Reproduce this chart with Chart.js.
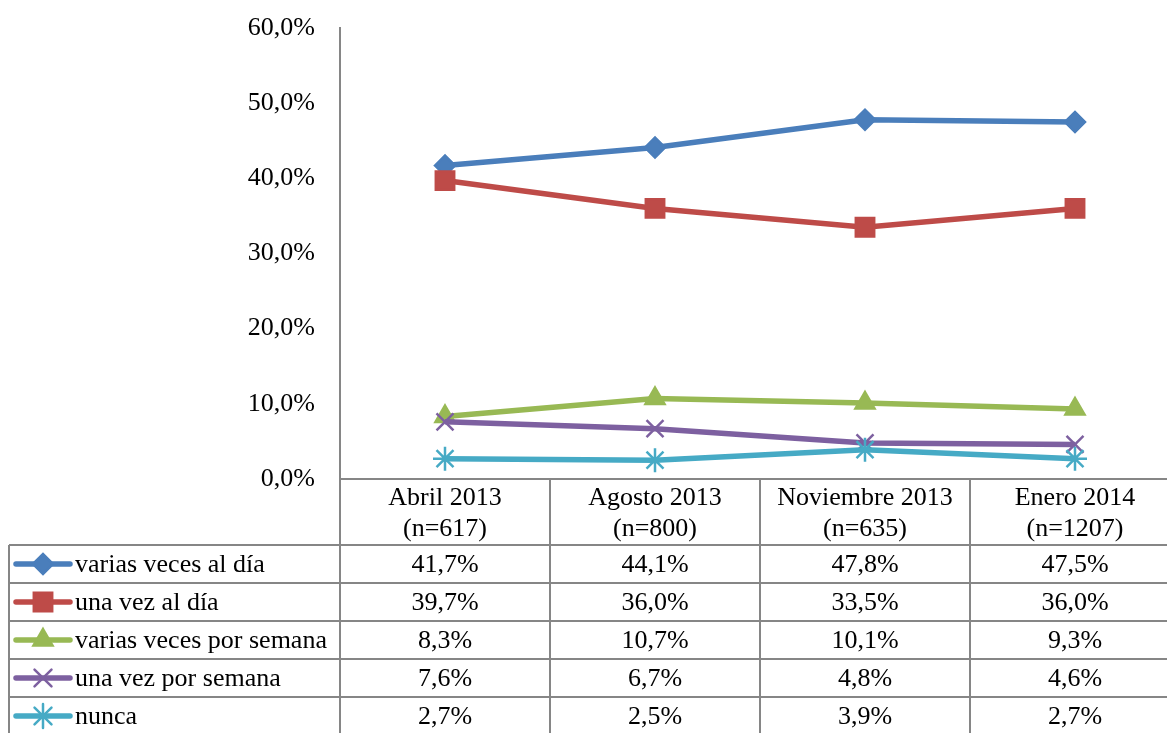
<!DOCTYPE html>
<html>
<head>
<meta charset="utf-8">
<script src="https://cdn.jsdelivr.net/npm/chart.js@4.4.1/dist/chart.umd.min.js"></script>
<style>
html, body { margin: 0; padding: 0; overflow: hidden; background: #fff; }
canvas { display: block; }
</style>
</head>
<body>
<canvas id="lineas" width="1180" height="733"></canvas>
<script>
// Datos del gráfico
var categorias = ["Abril 2013", "Agosto 2013", "Noviembre 2013", "Enero 2014"];
var muestras = ["(n=617)", "(n=800)", "(n=635)", "(n=1207)"];
var nombres = ["varias veces al día", "una vez al día", "varias veces por semana", "una vez por semana", "nunca"];
var variasVecesDia = [41.7, 44.1, 47.8, 47.5];
var unaVezDia = [39.7, 36.0, 33.5, 36.0];
var variasVecesSemana = [8.3, 10.7, 10.1, 9.3];
var unaVezSemana = [7.6, 6.7, 4.8, 4.6];
var nunca = [2.7, 2.5, 3.9, 2.7];
var ticksY = [0, 10, 20, 30, 40, 50, 60];

var colores = ["#4A7EBB", "#BE4B48", "#98B954", "#7D60A0", "#46AAC5"];
var marcadores = ["rectRot", "rect", "triangle", "crossRot", "star"];
var radios = [10, 13, 11, 12, 12];
var fuente = "'Liberation Serif', 'Times New Roman', serif";
var gris = "#868686";

function formato(v) {
    return v.toFixed(1).replace(".", ",") + "%";
}

/**
 * Plugin que dibuja la tabla de datos debajo del gráfico
 */
var pluginTabla = {
    id: "tabla",
    afterDraw: function (chart) {
        var ctx = chart.ctx;
        var x = chart.scales.x;
        var arriba = chart.chartArea.bottom;
        var abajo = chart.height;
        var ancho = x.width / categorias.length;
        var cabecera = 66;
        var alto = 38;
        var izq = 9;
        var datos = chart.data.datasets;

        ctx.save();
        ctx.strokeStyle = gris;
        ctx.lineWidth = 2;
        ctx.beginPath();
        for (var k = 0; k <= categorias.length; k++) {
            var xx = x.left + k * ancho;
            ctx.moveTo(xx, arriba);
            ctx.lineTo(xx, abajo);
        }
        ctx.moveTo(izq, arriba + cabecera);
        ctx.lineTo(izq, abajo);
        for (var r = 0; r <= datos.length; r++) {
            var yy = arriba + cabecera + r * alto;
            ctx.moveTo(izq, yy);
            ctx.lineTo(x.right, yy);
        }
        ctx.stroke();

        ctx.fillStyle = "#000";
        ctx.font = "26px " + fuente;
        ctx.textAlign = "center";
        ctx.textBaseline = "middle";
        for (var i = 0; i < categorias.length; i++) {
            var cx = x.getPixelForValue(i);
            ctx.fillText(categorias[i], cx, arriba + 19);
            ctx.fillText(muestras[i], cx, arriba + 50);
        }

        for (var s = 0; s < datos.length; s++) {
            var cy = arriba + cabecera + s * alto + alto / 2 + 1;
            ctx.textAlign = "center";
            ctx.fillStyle = "#000";
            for (var j = 0; j < datos[s].data.length; j++) {
                ctx.fillText(formato(datos[s].data[j]), x.getPixelForValue(j), cy);
            }
            // clave de la leyenda
            ctx.strokeStyle = colores[s];
            ctx.lineWidth = 5.5;
            ctx.lineCap = "round";
            ctx.beginPath();
            ctx.moveTo(izq + 7, cy - 1);
            ctx.lineTo(izq + 61, cy - 1);
            ctx.stroke();
            ctx.fillStyle = colores[s];
            ctx.strokeStyle = colores[s];
            ctx.lineWidth = 2.5;
            Chart.helpers.drawPoint(ctx, {
                pointStyle: marcadores[s],
                radius: radios[s],
                rotation: 0,
                borderWidth: 2.5
            }, izq + 34, cy - 1);
            ctx.fillStyle = "#000";
            ctx.textAlign = "left";
            ctx.fillText(nombres[s], izq + 66, cy);
        }
        ctx.restore();
    }
};

function serie(i, valores) {
    return {
        label: nombres[i],
        data: valores,
        borderColor: colores[i],
        backgroundColor: colores[i],
        borderWidth: 5.5,
        tension: 0,
        pointStyle: marcadores[i],
        pointRadius: radios[i],
        pointHoverRadius: radios[i],
        pointBorderWidth: 2.5,
        pointBackgroundColor: colores[i],
        pointBorderColor: colores[i],
        order: 5 - i
    };
}

var config = {
    type: "line",
    data: {
        labels: categorias,
        datasets: [
            serie(0, variasVecesDia),
            serie(1, unaVezDia),
            serie(2, variasVecesSemana),
            serie(3, unaVezSemana),
            serie(4, nunca)
        ]
    },
    options: {
        responsive: false,
        animation: false,
        layout: { autoPadding: false, padding: { top: 28, left: 0, right: 0, bottom: 0 } },
        plugins: {
            legend: { display: false },
            tooltip: { enabled: false }
        },
        scales: {
            x: {
                offset: true,
                grid: { display: false, drawTicks: false },
                border: { display: true, color: gris, width: 2 },
                ticks: { display: false },
                afterFit: function (scale) { scale.height = 254; }
            },
            y: {
                min: 0,
                max: 60,
                afterBuildTicks: function (scale) {
                    scale.ticks = ticksY.map(function (v) { return { value: v }; });
                },
                // marcas invisibles para separar las etiquetas del eje
                grid: {
                    display: true,
                    drawOnChartArea: false,
                    drawTicks: true,
                    tickLength: 25,
                    tickColor: "rgba(0,0,0,0)"
                },
                border: { display: true, color: gris, width: 2 },
                ticks: {
                    color: "#000",
                    padding: 0,
                    font: { family: fuente, size: 26 },
                    callback: function (v) { return formato(v); }
                },
                afterFit: function (scale) { scale.width = 340; }
            }
        }
    },
    plugins: [pluginTabla]
};

new Chart(document.getElementById("lineas").getContext("2d"), config);
</script>
</body>
</html>
